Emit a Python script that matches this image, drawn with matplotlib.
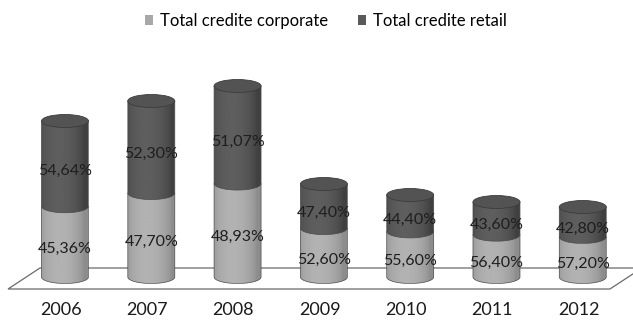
import numpy as np
import matplotlib.pyplot as plt
from matplotlib.path import Path
from matplotlib.patches import PathPatch, Ellipse, Polygon, Patch

years = ['2006', '2007', '2008', '2009', '2010', '2011', '2012']
corporate_pct = [45.36, 47.70, 48.93, 52.60, 55.60, 56.40, 57.20]
retail_pct = [54.64, 52.30, 51.07, 47.40, 44.40, 43.60, 42.80]
# total credit volume per year (sets the cylinder height)
totals = [156, 176, 191, 93, 82, 75, 70]

plt.rcParams['font.family'] = ['Lato', 'DejaVu Sans']

fig = plt.figure(figsize=(6.33, 3.2), dpi=100)
ax = fig.add_axes([0, 0, 1, 1])
xlim = (-0.753, 6.582)
ylim = (-43, 277)

# pixel -> data unit helpers
ux = (xlim[1] - xlim[0]) / 633.0
uy = (ylim[1] - ylim[0]) / 320.0
r = 23.5 * ux       # cylinder radius
ry = 6.5 * uy       # half-height of the ellipses

# floor
n = len(years)
floor = Polygon([(-0.66, -12 * uy), (n - 1 + 0.315, -12 * uy),
                 (n - 1 + 0.686, 9 * uy), (-0.29, 9 * uy)],
                closed=True, facecolor='white', edgecolor='#6a6a6a', lw=0.9, zorder=1)
ax.add_patch(floor)


def shade(base, amp):
    t = np.linspace(0, 1, 120)
    lum = base + amp * np.sin(np.pi * np.clip(t * 1.1, 0, 1)) ** 0.6 - 0.05 * t
    return lum[np.newaxis, :]


def body(x, y0, y1, base, amp, z):
    th = np.linspace(np.pi, 2 * np.pi, 40)
    pts = [(x - r, y1)] + [(x + r * np.cos(a), y0 + ry * np.sin(a)) for a in th] + [(x + r, y1), (x - r, y1)]
    codes = [Path.MOVETO] + [Path.LINETO] * (len(pts) - 2) + [Path.CLOSEPOLY]
    patch = PathPatch(Path(pts, codes), facecolor='none', edgecolor='#4a4a4a', lw=0.5, zorder=z + 0.5)
    ax.add_patch(patch)
    im = ax.imshow(shade(base, amp), cmap='gray', vmin=0, vmax=1, aspect='auto',
                   extent=[x - r, x + r, y0 - ry, y1], interpolation='bilinear', zorder=z)
    im.set_clip_path(patch)


for i in range(n):
    c_h = totals[i] * corporate_pct[i] / 100.0
    r_h = totals[i] * retail_pct[i] / 100.0
    body(i, 0, c_h, 0.60, 0.12, 3)
    body(i, c_h, c_h + r_h, 0.30, 0.09, 4)
    ax.add_patch(Ellipse((i, c_h + r_h), 2 * r, 2 * ry, facecolor='#535353',
                         edgecolor='#3c3c3c', lw=0.6, zorder=5))

    ax.annotate(f'{corporate_pct[i]:.2f}%'.replace('.', ','), (i, c_h / 2),
                xytext=(0, -5), textcoords='offset points', ha='center', va='center',
                fontsize=11.5, color='#1e1e1e', zorder=6)
    ax.annotate(f'{retail_pct[i]:.2f}%'.replace('.', ','), (i, c_h + r_h / 2),
                xytext=(0, -5), textcoords='offset points', ha='center', va='center',
                fontsize=11.5, color='#1e1e1e', zorder=6)
    ax.text(i - 0.05, -33 * uy, years[i], ha='center', va='center', fontsize=13, color='#1a1a1a')

handles = [Patch(facecolor='#a8a8a8', label='Total credite corporate'),
           Patch(facecolor='#5a5a5a', label='Total credite retail')]
ax.legend(handles=handles, loc='center', bbox_to_anchor=(0.515, 0.935), ncol=2, frameon=False,
          fontsize=12, handlelength=0.5, handleheight=0.5, handletextpad=0.4, columnspacing=1.8)

ax.set_xlim(*xlim)
ax.set_ylim(*ylim)
ax.axis('off')

fig.savefig('out.png', dpi=100)
